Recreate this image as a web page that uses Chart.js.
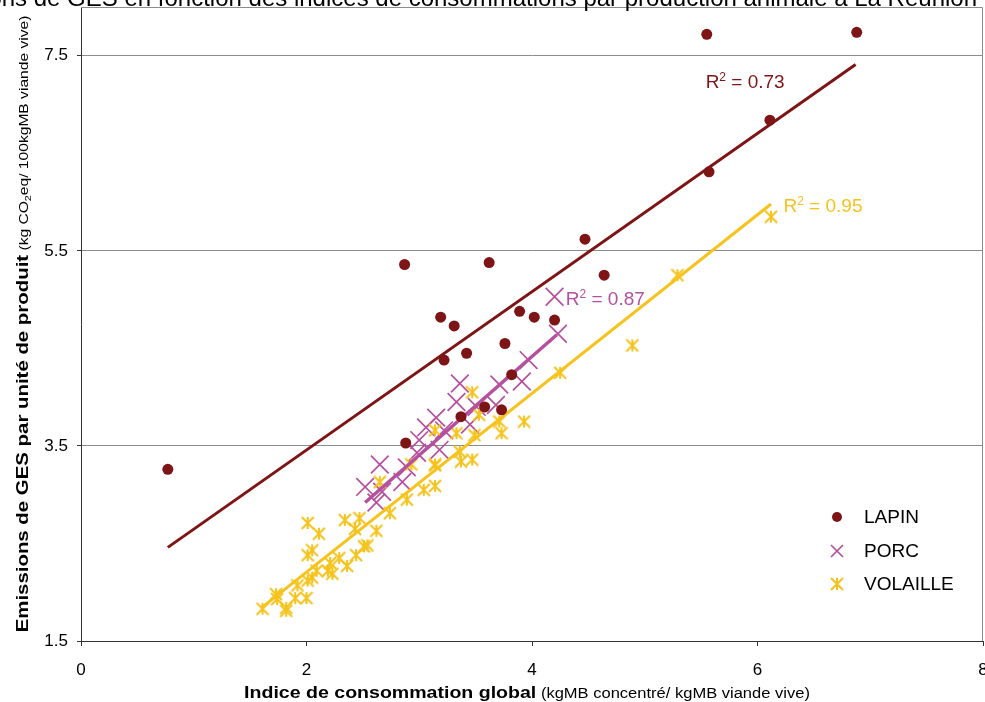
<!DOCTYPE html>
<html lang="fr">
<head>
<meta charset="utf-8">
<title>Emissions de GES - La Réunion</title>
<script src="https://cdn.jsdelivr.net/npm/chart.js@4.4.0/dist/chart.umd.min.js"></script>
<style>
  html, body { margin: 0; padding: 0; background: #fff; overflow: hidden; }
  #wrap { position: relative; width: 985px; height: 702px; overflow: hidden; }
  #chart { position: absolute; left: 0; top: 0; }
</style>
</head>
<body>
<div id="wrap"><canvas id="chart" width="1010" height="702"></canvas></div>
<script>
// Data
const chartTitle = "Emissions de GES en fonction des indices de consommations par production animale à La Réunion";
const seriesNames = ["LAPIN", "PORC", "VOLAILLE"];
const r2Values = ["0.73", "0.87", "0.95"];
const xTicks = [0, 2, 4, 6, 8];
const yTicks = [1.5, 3.5, 5.5, 7.5];

const lapinX = [0.77, 2.88, 2.87, 3.19, 3.31, 3.22, 3.42, 3.37, 3.62, 3.58, 3.73, 3.76, 3.89, 4.02, 4.20, 3.82, 4.47, 4.64, 5.57, 6.11, 5.55, 6.88];
const lapinY = [3.26, 3.53, 5.36, 4.82, 4.73, 4.38, 4.45, 3.80, 5.38, 3.90, 3.87, 4.55, 4.88, 4.82, 4.79, 4.23, 5.62, 5.25, 6.31, 6.84, 7.72, 7.74];

const porcX = [4.20, 4.23, 3.97, 3.91, 3.36, 3.33, 3.68, 3.15, 3.06, 3.18, 2.98, 2.89, 2.65, 2.85, 2.52, 2.67, 2.62, 3.51, 3.71, 3.00, 3.22, 3.45];
const porcY = [5.03, 4.65, 4.38, 4.16, 4.14, 3.95, 3.92, 3.79, 3.69, 3.46, 3.43, 3.28, 3.31, 3.13, 3.08, 3.03, 2.92, 3.90, 4.13, 3.56, 3.66, 3.72];

const volailleX = [1.61, 1.73, 1.74, 1.82, 1.82, 1.90, 1.92, 2.00, 2.01, 2.05, 2.01, 2.11, 2.05, 2.01, 2.09, 2.19, 2.21, 2.23, 2.29, 2.34,
                   2.36, 2.43, 2.44, 2.47, 2.51, 2.54, 2.62, 2.65, 2.74, 2.89, 3.04, 3.14, 2.93, 3.14, 3.14, 3.14, 3.33, 3.36, 3.37, 3.47,
                   3.49, 3.47, 3.53, 3.71, 3.73, 3.93, 4.25, 4.89, 5.29, 6.12];
const volailleY = [1.83, 1.98, 1.93, 1.84, 1.81, 1.94, 2.07, 1.94, 2.12, 2.15, 2.71, 2.60, 2.43, 2.38, 2.22, 2.22, 2.30, 2.19, 2.35, 2.74,
                   2.27, 2.65, 2.38, 2.76, 2.47, 2.48, 2.63, 3.13, 2.81, 2.95, 3.05, 3.09, 3.31, 3.31, 3.66, 3.30, 3.63, 3.44, 3.34, 3.36,
                   3.61, 4.05, 3.82, 3.75, 3.63, 3.75, 4.25, 4.53, 5.25, 5.85];

// trend line end points
const lapinTrendX = [0.77, 6.87];
const lapinTrendY = [2.46, 7.41];
const porcTrendX = [2.52, 4.22];
const porcTrendY = [2.92, 4.64];
const volailleTrendX = [1.60, 6.12];
const volailleTrendY = [1.84, 5.98];

// Styles
const FONT = "'Liberation Sans', Arial, sans-serif";
const colors = ["#7d1416", "#b5509f", "#f5c31c"];
const r2Anchors = [[5.54, 7.24], [4.30, 5.02], [6.23, 5.97]];
const legendPos = { x: 837, text: 864, rows: [517, 551, 584] };

const pts = (xs, ys) => xs.map((x, i) => ({ x: x, y: ys[i] }));

function makeStar(size, color, lw) {
    const c = document.createElement("canvas");
    c.width = size; c.height = size;
    const g = c.getContext("2d");
    const m = size / 2, a = size / 2 - 1;
    g.strokeStyle = color; g.lineWidth = lw;
    g.beginPath();
    g.moveTo(m, m - a); g.lineTo(m, m + a);
    g.moveTo(m - a, m - a); g.lineTo(m + a, m + a);
    g.moveTo(m + a, m - a); g.lineTo(m - a, m + a);
    g.stroke();
    return c;
}
const star = makeStar(14, colors[2], 2);

// text runs with mixed fonts, optional horizontal stretch (sx)
function runsWidth(ctx, runs) {
    return runs.reduce((w, r) => { ctx.font = r.font; return w + ctx.measureText(r.t).width * (r.sx || 1); }, 0);
}
function drawRuns(ctx, runs, x, y) {
    let cx = x;
    runs.forEach(r => {
        const sx = r.sx || 1;
        ctx.font = r.font;
        ctx.save();
        ctx.translate(cx, y + (r.dy || 0));
        ctx.scale(sx, 1);
        ctx.fillText(r.t, 0, 0);
        ctx.restore();
        cx += ctx.measureText(r.t).width * sx;
    });
}

const decor = {
    id: "decor",
    afterDraw(chart) {
        const { ctx, chartArea: a, scales } = chart;
        ctx.save();

        // box top / right
        ctx.strokeStyle = "#8c8c8c"; ctx.lineWidth = 1;
        ctx.beginPath();
        ctx.moveTo(a.left, a.top + 0.5); ctx.lineTo(a.right - 0.5, a.top + 0.5); ctx.lineTo(a.right - 0.5, a.bottom);
        ctx.stroke();

        // title, cut by the top edge
        ctx.fillStyle = "#000";
        ctx.textAlign = "right"; ctx.textBaseline = "alphabetic";
        ctx.font = "24px " + FONT;
        ctx.fillText(chartTitle, 977, 6);

        // x title
        ctx.textAlign = "left";
        const xRuns = [
            { t: "Indice de consommation global", font: "bold 17px " + FONT, sx: 1.15 },
            { t: " (kgMB concentré/ kgMB viande vive)", font: "14px " + FONT, sx: 1.18 }
        ];
        drawRuns(ctx, xRuns, 527 - runsWidth(ctx, xRuns) / 2, 698);

        // y title
        const yRuns = [
            { t: "Emissions de GES par unité de produit", font: "bold 17px " + FONT, sx: 1.2 },
            { t: " (kg CO", font: "13px " + FONT, sx: 1.2 },
            { t: "2", font: "9px " + FONT, dy: 3, sx: 1.2 },
            { t: "eq/ 100kgMB viande vive)", font: "13px " + FONT, sx: 1.2 }
        ];
        ctx.save();
        ctx.translate(27.5, (a.top + a.bottom) / 2);
        ctx.rotate(-Math.PI / 2);
        drawRuns(ctx, yRuns, -runsWidth(ctx, yRuns) / 2, 0);
        ctx.restore();

        // R² labels
        r2Values.forEach((v, i) => {
            ctx.fillStyle = colors[i];
            const px = scales.x.getPixelForValue(r2Anchors[i][0]);
            const py = scales.y.getPixelForValue(r2Anchors[i][1]) + 7;
            drawRuns(ctx, [
                { t: "R", font: "19px " + FONT },
                { t: "2", font: "12px " + FONT, dy: -7 },
                { t: " = " + v, font: "19px " + FONT }
            ], px, py);
        });

        // legend
        ctx.textBaseline = "middle";
        seriesNames.forEach((name, i) => {
            const cy = legendPos.rows[i], cx = legendPos.x;
            if (i === 0) {
                ctx.fillStyle = colors[0];
                ctx.beginPath(); ctx.arc(cx, cy, 5, 0, Math.PI * 2); ctx.fill();
            } else if (i === 1) {
                ctx.strokeStyle = colors[1]; ctx.lineWidth = 1.7;
                ctx.beginPath();
                ctx.moveTo(cx - 6, cy - 6); ctx.lineTo(cx + 6, cy + 6);
                ctx.moveTo(cx + 6, cy - 6); ctx.lineTo(cx - 6, cy + 6);
                ctx.stroke();
            } else {
                ctx.drawImage(star, cx - 7, cy - 7);
            }
            ctx.fillStyle = "#000";
            ctx.font = "19px " + FONT;
            ctx.fillText(name, legendPos.text, cy + 1);
        });
        ctx.restore();
    }
};

const trend = (xs, ys, color, w) => ({
    type: "line", data: pts(xs, ys), showLine: true, pointRadius: 0,
    borderColor: color, borderWidth: w, fill: false, order: 1
});

new Chart(document.getElementById("chart"), {
    type: "scatter",
    data: {
        datasets: [
            { label: seriesNames[0], data: pts(lapinX, lapinY), pointStyle: "circle", pointRadius: 5.5,
              backgroundColor: colors[0], borderWidth: 0, order: 0 },
            { label: seriesNames[1], data: pts(porcX, porcY), pointStyle: "crossRot", pointRadius: 12.5,
              borderColor: colors[1], borderWidth: 1.7, order: 3 },
            { label: seriesNames[2], data: pts(volailleX, volailleY), pointStyle: star, pointRadius: 7,
              borderColor: colors[2], order: 2 },
            trend(lapinTrendX, lapinTrendY, colors[0], 3),
            trend(porcTrendX, porcTrendY, colors[1], 3.5),
            trend(volailleTrendX, volailleTrendY, colors[2], 3)
        ]
    },
    options: {
        responsive: false,
        animation: false,
        events: [],
        layout: { autoPadding: false, padding: { top: 7, left: 0, right: 27, bottom: 0 } },
        plugins: { legend: { display: false }, tooltip: { enabled: false } },
        scales: {
            x: {
                type: "linear", min: 0, max: 8,
                afterBuildTicks: s => { s.ticks = xTicks.map(v => ({ value: v })); },
                afterFit: s => { s.height = 61; },
                grid: { drawOnChartArea: false, drawTicks: true, tickLength: 5, tickColor: "#333" },
                border: { display: true, color: "#333", width: 1 },
                ticks: { font: { family: FONT, size: 17 }, color: "#000", padding: 14, maxRotation: 0, callback: v => String(v) }
            },
            y: {
                type: "linear", min: 1.5, max: 8,
                afterBuildTicks: s => { s.ticks = yTicks.map(v => ({ value: v })); },
                afterFit: s => { s.width = 81; s.paddingTop = 0; s.paddingBottom = 0; },
                grid: { color: "#8c8c8c", tickLength: 4, tickColor: "#333" },
                border: { display: true, color: "#333", width: 1 },
                ticks: { font: { family: FONT, size: 17 }, color: "#000", padding: 9, callback: v => v.toFixed(1) }
            }
        }
    },
    plugins: [decor]
});
</script>
</body>
</html>
